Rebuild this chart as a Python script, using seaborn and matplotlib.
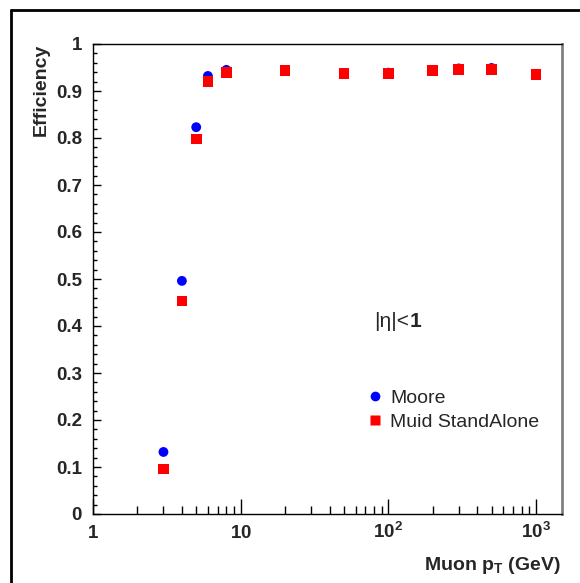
import numpy as np
import pandas as pd
import matplotlib
matplotlib.use("Agg")
import matplotlib.pyplot as plt
import matplotlib.ticker as mticker
from matplotlib.lines import Line2D
import seaborn as sns

# ---- data ----
pt = [3, 4, 5, 6, 8, 20, 50, 100, 200, 300, 500, 1000]
eff_moore = [0.132, 0.496, 0.823, 0.932, 0.945, 0.945, 0.938, 0.939, 0.945, 0.948, 0.949, 0.936]
eff_muid = [0.096, 0.453, 0.798, 0.921, 0.940, 0.943, 0.937, 0.938, 0.943, 0.946, 0.946, 0.935]
series_names = ["Moore", "Muid StandAlone"]
series_colors = ["#0000ff", "#ff0000"]
series_markers = ["o", "s"]
x_tick_values = [1, 10, 100, 1000]
x_tick_labels = [r"$\mathbf{1}$", r"$\mathbf{10}$", r"$\mathbf{10^{2}}$", r"$\mathbf{10^{3}}$"]
y_tick_values = [0, 0.1, 0.2, 0.3, 0.4, 0.5, 0.6, 0.7, 0.8, 0.9, 1.0]
y_tick_labels = ["0", "0.1", "0.2", "0.3", "0.4", "0.5", "0.6", "0.7", "0.8", "0.9", "1"]

df = pd.DataFrame({
    "pt": pt * 2,
    "eff": eff_moore + eff_muid,
    "algo": [series_names[0]] * len(pt) + [series_names[1]] * len(pt),
})

sns.set_theme(style="white")
plt.rcParams["font.family"] = ["Liberation Sans", "DejaVu Sans"]
plt.rcParams["mathtext.fontset"] = "custom"
plt.rcParams["mathtext.rm"] = "Liberation Sans"
plt.rcParams["mathtext.bf"] = "Liberation Sans:bold"
plt.rcParams["mathtext.it"] = "Liberation Sans:italic"

fig = plt.figure(figsize=(5.8, 5.83), dpi=100)
ax = fig.add_axes([93 / 580, 69 / 583, 469 / 580, 470 / 583])

palette = dict(zip(series_names, series_colors))
markers = dict(zip(series_names, series_markers))
for name in series_names:
    sub = df[df["algo"] == name]
    sns.scatterplot(data=sub, x="pt", y="eff", color=palette[name], marker=markers[name],
                    s=50 if markers[name] == "o" else 60, edgecolor="none", ax=ax, legend=False)

ax.set_xscale("log")
ax.set_xlim(1, 1500)
ax.set_ylim(0, 1)

ax.set_xticks(x_tick_values)
ax.set_xticklabels(x_tick_labels)
ax.xaxis.set_minor_locator(mticker.LogLocator(base=10, subs=np.arange(2, 10)))
ax.xaxis.set_minor_formatter(mticker.NullFormatter())
ax.set_yticks(y_tick_values)
ax.set_yticklabels(y_tick_labels)
ax.yaxis.set_minor_locator(mticker.MultipleLocator(0.02))

ax.tick_params(axis="x", which="major", direction="in", length=11, width=1, color="black",
               top=False, bottom=True, labelsize=13.5, pad=17)
ax.tick_params(axis="x", which="minor", direction="in", length=6, width=1, color="black",
               top=False, bottom=True)
ax.tick_params(axis="y", which="major", direction="in", length=6, width=1, color="black",
               left=True, right=False, labelsize=13.5, pad=8)
ax.tick_params(axis="y", which="minor", direction="in", length=3, width=1, color="black",
               left=True, right=False)
for lab in ax.get_xticklabels():
    lab.set_va("baseline")
for lab in ax.get_yticklabels():
    lab.set_fontweight("bold")

for side in ["left", "bottom", "top"]:
    ax.spines[side].set_color("black")
    ax.spines[side].set_linewidth(1.0)
ax.spines["right"].set_color("#808080")
ax.spines["right"].set_linewidth(2.0)

ax.set_xlabel(r"Muon $\mathbf{p_{T}}$ (GeV)", fontsize=14, fontweight="bold", ha="right")
ax.xaxis.set_label_coords(0.997, -0.088)
ax.set_ylabel("Efficiency", fontsize=14, fontweight="bold", ha="right")
ax.yaxis.set_label_coords(-0.092, 1.0)

# annotation
ax.text(0.60, 0.397, "|η|<", transform=ax.transAxes, fontsize=15, ha="left", va="baseline")
ax.text(0.676, 0.397, "1", transform=ax.transAxes, fontsize=15, fontweight="bold",
        ha="left", va="baseline")

handles = [Line2D([0], [0], marker=m, color="none", markerfacecolor=c, markeredgecolor="none",
                  markersize=7 if m == "o" else 7.5) for m, c in zip(series_markers, series_colors)]
leg = ax.legend(handles, series_names, loc="upper left", bbox_to_anchor=(0.565, 0.282),
                frameon=False, fontsize=14, handlelength=0.9, handletextpad=0.35,
                labelspacing=0.32, borderaxespad=0)

# canvas frame
fig.add_artist(Line2D([11 / 580, 11 / 580], [0, 1 - 10 / 583], color="black", lw=2,
                      transform=fig.transFigure))
fig.add_artist(Line2D([11 / 580, 1], [1 - 10 / 583, 1 - 10 / 583], color="black", lw=2,
                      transform=fig.transFigure))

fig.savefig("out.png", dpi=100)
